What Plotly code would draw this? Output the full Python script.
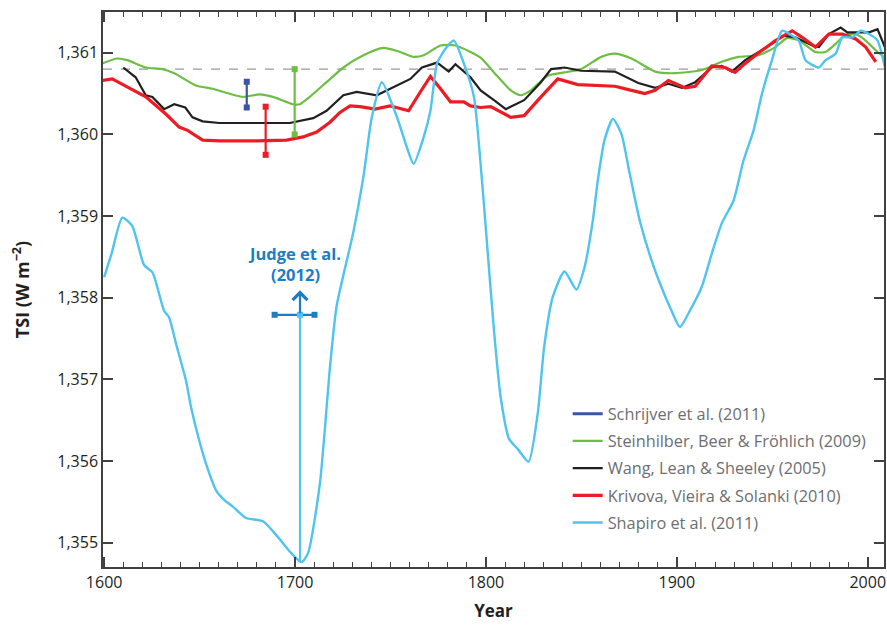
import plotly.graph_objects as go

# ---------------- data ----------------
shapiro_year = [1600, 1604, 1609.5, 1614.7, 1620.9, 1625.3, 1631.4, 1634, 1637.6, 1642.8, 1645.5, 1649.8,
                1654, 1658.6, 1663, 1667.4, 1674.4, 1683.2, 1690.2, 1697.2, 1703.4, 1706.8, 1713, 1718.3,
                1721.8, 1730.5, 1735.8, 1740.2, 1745.5, 1753.4, 1758.6, 1762.1, 1767.4, 1770.9, 1774.4,
                1778.8, 1783.2, 1788.4, 1793.7, 1797.2, 1800.7, 1804.2, 1807.7, 1812.1, 1816.5, 1822.3,
                1827.1, 1830.5, 1835, 1841.1, 1847.4, 1851.6, 1856, 1858.6, 1862.1, 1866.5, 1870.9, 1875.3,
                1880.5, 1886.7, 1891.9, 1897.2, 1901.6, 1906.8, 1913, 1918.3, 1923.5, 1929.7, 1934.9,
                1940.2, 1944.6, 1949.8, 1955.1, 1960.4, 1963.9, 1967.4, 1974.4, 1977.9, 1983.2, 1986.7,
                1992, 1996.3, 2000.7, 2005.1, 2010.4]
shapiro_tsi = [1358.25, 1358.55, 1358.98, 1358.88, 1358.40, 1358.31, 1357.84, 1357.76, 1357.44, 1356.99,
               1356.66, 1356.25, 1355.92, 1355.64, 1355.52, 1355.44, 1355.30, 1355.26, 1355.09, 1354.89,
               1354.76, 1354.87, 1355.72, 1357.15, 1357.90, 1358.80, 1359.48, 1360.21, 1360.64, 1360.21,
               1359.84, 1359.64, 1359.97, 1360.29, 1360.87, 1361.05, 1361.15, 1360.87, 1360.46, 1359.64,
               1358.62, 1357.60, 1356.78, 1356.27, 1356.15, 1355.99, 1356.58, 1357.40, 1358.01, 1358.32,
               1358.10, 1358.37, 1358.95, 1359.44, 1359.93, 1360.19, 1360.01, 1359.52, 1358.95, 1358.46,
               1358.13, 1357.84, 1357.64, 1357.84, 1358.13, 1358.54, 1358.91, 1359.19, 1359.68, 1360.05,
               1360.50, 1360.91, 1361.27, 1361.21, 1361.15, 1360.91, 1360.82, 1360.91, 1360.99, 1361.19,
               1361.19, 1361.27, 1361.23, 1361.15, 1360.66]

wang_year = [1610, 1616.5, 1621.8, 1625.3, 1631.4, 1636.7, 1642.5, 1646.3, 1651.6, 1660.4, 1680, 1697.2,
             1709.5, 1716.5, 1725.3, 1732.3, 1742.8, 1749.8, 1760.4, 1766.5, 1774.4, 1780.5, 1784, 1791.9,
             1797.2, 1804.2, 1810.4, 1820, 1828.8, 1834.1, 1841.1, 1849.8, 1867.5, 1879.8, 1888.6, 1895.6,
             1902.6, 1909.6, 1918.3, 1923.5, 1928.8, 1935.8, 1942.8, 1949.8, 1956, 1962.1, 1970.9, 1974.4,
             1979.6, 1985.8, 1989.3, 1995.5, 2000.7, 2005.1, 2010]
wang_tsi = [1360.82, 1360.70, 1360.48, 1360.46, 1360.31, 1360.37, 1360.33, 1360.21, 1360.16, 1360.14,
            1360.14, 1360.14, 1360.20, 1360.29, 1360.48, 1360.52, 1360.48, 1360.56, 1360.68, 1360.82,
            1360.88, 1360.77, 1360.86, 1360.70, 1360.54, 1360.42, 1360.31, 1360.42, 1360.64, 1360.80,
            1360.82, 1360.78, 1360.77, 1360.63, 1360.57, 1360.62, 1360.57, 1360.64, 1360.82, 1360.84,
            1360.77, 1360.91, 1361.01, 1361.11, 1361.21, 1361.19, 1361.09, 1361.07, 1361.23, 1361.31,
            1361.25, 1361.25, 1361.25, 1361.29, 1361.01]

steinhilber_year = [1599, 1606.8, 1612.1, 1621.8, 1630.5, 1636.7, 1648.1, 1656.8, 1672.6, 1681.4, 1688.4,
                    1698.9, 1702.5, 1707.7, 1716.5, 1725.3, 1735.8, 1746.3, 1755.1, 1762.1, 1767.4, 1776.2,
                    1784, 1791.9, 1797.2, 1804.2, 1813, 1818.2, 1823.5, 1832.3, 1841.1, 1849.8, 1860.4,
                    1867.4, 1876.2, 1888.6, 1899.1, 1913.1, 1923.5, 1932.3, 1942.8, 1951.6, 1957.7, 1963.9,
                    1972.6, 1977.9, 1983.2, 1988.4, 1993.7, 1998.9, 2005.1, 2008.6]
steinhilber_tsi = [1360.87, 1360.93, 1360.91, 1360.82, 1360.80, 1360.75, 1360.60, 1360.56, 1360.46,
                   1360.49, 1360.46, 1360.37, 1360.37, 1360.46, 1360.64, 1360.82, 1360.97, 1361.06, 1361.01,
                   1360.95, 1360.97, 1361.09, 1361.09, 1361.01, 1360.94, 1360.76, 1360.54, 1360.48, 1360.54,
                   1360.72, 1360.76, 1360.80, 1360.95, 1360.99, 1360.93, 1360.77, 1360.75, 1360.79, 1360.89,
                   1360.95, 1360.97, 1361.07, 1361.18, 1361.15, 1361.01, 1361.01, 1361.11, 1361.22, 1361.23,
                   1361.15, 1361.01, 1360.95]

krivova_year = [1599, 1604.2, 1613, 1621.8, 1632.3, 1639.3, 1643.7, 1651.6, 1660.4, 1680, 1695.5, 1704.2,
                1711.3, 1718.3, 1723.5, 1728.8, 1734, 1741.9, 1749.8, 1759.5, 1765.6, 1770.9, 1776.2,
                1781.4, 1788.4, 1791.9, 1797.2, 1802.5, 1813, 1820, 1828.8, 1837.6, 1848.1, 1867.5, 1876.2,
                1883.2, 1888.6, 1895.6, 1904.4, 1909.6, 1918.3, 1925.3, 1930.5, 1935.8, 1944.6, 1951.6,
                1960.4, 1965.6, 1972.6, 1979.6, 1986.7, 1993.7, 1998.9, 2004.2]
krivova_tsi = [1360.66, 1360.68, 1360.57, 1360.46, 1360.25, 1360.09, 1360.05, 1359.93, 1359.92, 1359.92,
               1359.93, 1359.97, 1360.03, 1360.15, 1360.27, 1360.35, 1360.34, 1360.31, 1360.35, 1360.29,
               1360.52, 1360.71, 1360.56, 1360.40, 1360.40, 1360.35, 1360.33, 1360.34, 1360.21, 1360.23,
               1360.46, 1360.68, 1360.61, 1360.59, 1360.54, 1360.50, 1360.54, 1360.66, 1360.57, 1360.59,
               1360.84, 1360.82, 1360.76, 1360.87, 1361.03, 1361.15, 1361.27, 1361.19, 1361.07, 1361.23,
               1361.23, 1361.17, 1361.07, 1360.89]

# error bars (year, low, high)
schrijver_bar = dict(year=1674.7, low=1360.33, high=1360.645)
krivova_bar = dict(year=1684.6, low=1359.75, high=1360.34)
steinhilber_bar = dict(year=1699.8, low=1360.00, high=1360.80)

# Judge et al. (2012) lower limit
judge_year = 1702.6
judge_year_lo = 1689.3
judge_year_hi = 1710.2
judge_tsi = 1357.79
judge_floor = 1354.76
judge_arrow_tip = 1358.09
judge_label_year = 1699.6
judge_label_tsi = 1358.41

reference_tsi = 1360.8

series_names = ["Schrijver et al. (2011)", "Steinhilber, Beer & Fröhlich (2009)",
                "Wang, Lean & Sheeley (2005)", "Krivova, Vieira & Solanki (2010)",
                "Shapiro et al. (2011)"]

# ---------------- style ----------------
C_SCHRIJVER = "#3a55a4"
C_GREEN = "#6ebe44"
C_BLACK = "#231f20"
C_RED = "#ed1c24"
C_LBLUE = "#4ec4ee"
C_JUDGE = "#1b7dc2"
AXIS = "#414042"
FONT = "Open Sans"

fig = go.Figure()

# legend-only entry for Schrijver
fig.add_trace(go.Scatter(x=[None], y=[None], mode="lines", name=series_names[0],
                         line=dict(color=C_SCHRIJVER, width=3), legendgroup="a", legendrank=1))
fig.add_trace(go.Scatter(x=steinhilber_year, y=steinhilber_tsi, mode="lines", name=series_names[1],
                         line=dict(color=C_GREEN, width=2.2, shape="spline", smoothing=0.6),
                         legendgroup="b", legendrank=2))
fig.add_trace(go.Scatter(x=wang_year, y=wang_tsi, mode="lines", name=series_names[2],
                         line=dict(color=C_BLACK, width=2.2), legendgroup="c", legendrank=3))
fig.add_trace(go.Scatter(x=krivova_year, y=krivova_tsi, mode="lines", name=series_names[3],
                         line=dict(color=C_RED, width=3.2), legendgroup="d", legendrank=4))
fig.add_trace(go.Scatter(x=shapiro_year, y=shapiro_tsi, mode="lines", name=series_names[4],
                         line=dict(color=C_LBLUE, width=2.4, shape="spline", smoothing=0.6),
                         legendgroup="e", legendrank=5))

# error bars
for bar, col in [(schrijver_bar, C_SCHRIJVER), (krivova_bar, C_RED), (steinhilber_bar, C_GREEN)]:
    fig.add_trace(go.Scatter(x=[bar["year"], bar["year"]], y=[bar["low"], bar["high"]],
                             mode="lines+markers", showlegend=False, hoverinfo="skip",
                             line=dict(color=col, width=2.2),
                             marker=dict(symbol="square", size=6, color=col)))

# Judge et al.
fig.add_trace(go.Scatter(x=[judge_year, judge_year], y=[judge_tsi, judge_floor], mode="lines",
                         showlegend=False, hoverinfo="skip", line=dict(color=C_LBLUE, width=2.2)))
fig.add_trace(go.Scatter(x=[judge_year_lo, judge_year_hi], y=[judge_tsi, judge_tsi], mode="lines+markers",
                         showlegend=False, hoverinfo="skip", line=dict(color=C_JUDGE, width=2.2),
                         marker=dict(symbol="square", size=6, color=C_JUDGE)))
fig.add_trace(go.Scatter(x=[judge_year], y=[judge_tsi], mode="markers", showlegend=False, hoverinfo="skip",
                         marker=dict(symbol="square", size=6, color=C_LBLUE)))

fig.add_annotation(x=judge_year, y=judge_arrow_tip, ax=judge_year, ay=judge_tsi, xref="x", yref="y",
                   axref="x", ayref="y", text="", showarrow=True, arrowhead=4, arrowsize=1.3,
                   arrowwidth=2.2, arrowcolor=C_JUDGE)
fig.add_annotation(x=judge_label_year, y=judge_label_tsi, xref="x", yref="y",
                   text="<b>Judge et al.<br>(2012)</b>", showarrow=False,
                   font=dict(family=FONT, size=16.5, color=C_JUDGE), align="center")

fig.add_shape(type="line", xref="paper", x0=0, x1=1, yref="y", y0=reference_tsi, y1=reference_tsi,
              line=dict(color="#9a9a9a", width=1.3, dash="dash"), layer="below")

fig.update_layout(
    width=887, height=625,
    margin=dict(l=103, r=3, t=12, b=58, autoexpand=False),
    plot_bgcolor="white", paper_bgcolor="white",
    font=dict(family=FONT, color="#231f20"),
    showlegend=True,
    legend=dict(x=0.595, y=0.307, xanchor="left", yanchor="top", bgcolor="rgba(0,0,0,0)",
                font=dict(family=FONT, size=16.3, color="#6d6e71"), tracegroupgap=3,
                traceorder="grouped"),
    xaxis=dict(range=[1599.4, 2008.5], tickvals=[1600, 1700, 1800, 1900, 2000], automargin=False,
               ticks="inside", ticklen=10, tickwidth=1.5, tickcolor=AXIS,
               minor=dict(ticks="inside", dtick=10, tick0=1600, ticklen=5, tickwidth=1.3, tickcolor=AXIS),
               showline=True, linecolor=AXIS, linewidth=1.5, mirror="allticks",
               showgrid=False, zeroline=False,
               tickfont=dict(family=FONT, size=16, color="#231f20"),
               title=dict(text="<b>Year</b>", font=dict(family=FONT, size=17, color="#231f20"), standoff=13)),
    yaxis=dict(range=[1354.70, 1361.50], dtick=1, tick0=1355, tickformat=",d", automargin=False,
               ticks="inside", ticklen=10, tickwidth=1.5, tickcolor=AXIS,
               showline=True, linecolor=AXIS, linewidth=1.5, mirror="allticks",
               showgrid=False, zeroline=False,
               tickfont=dict(family=FONT, size=16, color="#231f20"),
               title=dict(text="<b>TSI (W m<sup>−2</sup>)</b>", font=dict(family=FONT, size=18, color="#231f20"),
                          standoff=23)),
)

# remove the page's default body margin and scrollbars so the figure fills the window
page_css = "document.body.style.margin='0';document.body.style.overflow='hidden';"
fig.write_html("out.html", post_script=page_css, config={"displayModeBar": False})
